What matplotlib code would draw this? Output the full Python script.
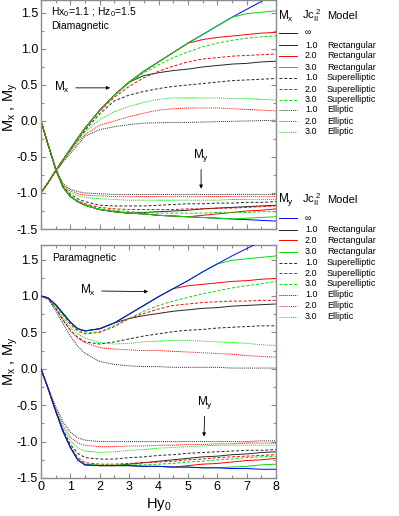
import matplotlib
matplotlib.use("Agg")
import matplotlib.pyplot as plt
from matplotlib.lines import Line2D
from matplotlib.ticker import MultipleLocator, FuncFormatter

plt.rcParams['font.family'] = ['Liberation Sans', 'DejaVu Sans']
plt.rcParams['mathtext.fontset'] = 'custom'
plt.rcParams['mathtext.rm'] = 'Liberation Sans'
plt.rcParams['mathtext.it'] = 'Liberation Sans'

# ---------------- data ----------------
H = [0, 0.25, 0.5, 0.75, 1.0, 1.25, 1.5, 2.0, 2.5, 3.0, 3.5, 4.0, 4.5, 5.0, 5.5, 6.0, 6.5, 7.0, 7.5, 8.0]

jc_labels = ["\u221e", "1.0", "2.0", "3.0", "1.0", "2.0", "3.0", "1.0", "2.0", "3.0"]
model_labels = ["", "Rectangular", "Rectangular", "Rectangular", "Superelliptic", "Superelliptic",
                "Superelliptic", "Elliptic", "Elliptic", "Elliptic"]

# Diamagnetic, Mx
dia_mx_inf = [-1.00, -0.85, -0.69, -0.54, -0.39, -0.24, -0.10, 0.15, 0.36, 0.54, 0.69, 0.82, 0.95, 1.08, 1.20, 1.32, 1.44, 1.55, 1.66, 1.77]
dia_mx_r1 = [-1.00, -0.85, -0.69, -0.54, -0.39, -0.24, -0.10, 0.15, 0.36, 0.54, 0.63, 0.67, 0.70, 0.72, 0.75, 0.77, 0.79, 0.80, 0.82, 0.83]
dia_mx_r2 = [-1.00, -0.85, -0.69, -0.54, -0.39, -0.24, -0.10, 0.15, 0.36, 0.54, 0.69, 0.82, 0.95, 1.08, 1.13, 1.16, 1.18, 1.20, 1.22, 1.23]
dia_mx_r3 = [-1.00, -0.85, -0.69, -0.54, -0.39, -0.24, -0.10, 0.15, 0.36, 0.54, 0.69, 0.82, 0.95, 1.08, 1.20, 1.32, 1.44, 1.49, 1.51, 1.53]
dia_mx_s1 = [-1.00, -0.85, -0.69, -0.54, -0.40, -0.26, -0.13, 0.10, 0.28, 0.36, 0.41, 0.45, 0.48, 0.50, 0.52, 0.54, 0.56, 0.57, 0.58, 0.59]
dia_mx_s2 = [-1.00, -0.85, -0.69, -0.54, -0.39, -0.24, -0.10, 0.14, 0.33, 0.48, 0.60, 0.69, 0.76, 0.82, 0.86, 0.88, 0.90, 0.91, 0.92, 0.93]
dia_mx_s3 = [-1.00, -0.85, -0.69, -0.54, -0.39, -0.24, -0.10, 0.15, 0.36, 0.53, 0.67, 0.78, 0.88, 0.96, 1.03, 1.08, 1.12, 1.15, 1.17, 1.18]
dia_mx_e1 = [-1.00, -0.85, -0.70, -0.57, -0.45, -0.33, -0.21, -0.12, -0.08, -0.05, -0.03, -0.025, -0.02, -0.02, -0.015, -0.01, -0.005, 0.0, 0.005, 0.01]
dia_mx_e2 = [-1.00, -0.85, -0.69, -0.55, -0.42, -0.29, -0.19, -0.06, 0.00, 0.06, 0.11, 0.15, 0.17, 0.18, 0.18, 0.18, 0.17, 0.16, 0.15, 0.14]
dia_mx_e3 = [-1.00, -0.85, -0.69, -0.55, -0.41, -0.27, -0.15, 0.02, 0.13, 0.20, 0.26, 0.30, 0.32, 0.32, 0.32, 0.32, 0.31, 0.31, 0.30, 0.29]

# Diamagnetic, My
dia_my_inf = [0, -0.34, -0.67, -0.92, -1.05, -1.12, -1.17, -1.23, -1.26, -1.28, -1.29, -1.31, -1.32, -1.33, -1.34, -1.35, -1.36, -1.37, -1.38, -1.39]
dia_my_r1 = [0, -0.34, -0.67, -0.92, -1.05, -1.12, -1.17, -1.23, -1.26, -1.28, -1.27, -1.26, -1.25, -1.24, -1.22, -1.21, -1.20, -1.19, -1.18, -1.17]
dia_my_r2 = [0, -0.34, -0.67, -0.92, -1.05, -1.12, -1.17, -1.23, -1.26, -1.28, -1.29, -1.31, -1.32, -1.33, -1.31, -1.29, -1.27, -1.25, -1.24, -1.22]
dia_my_r3 = [0, -0.34, -0.67, -0.92, -1.05, -1.12, -1.17, -1.23, -1.26, -1.28, -1.29, -1.31, -1.32, -1.33, -1.34, -1.35, -1.36, -1.35, -1.34, -1.33]
dia_my_s1 = [0, -0.34, -0.67, -0.91, -1.02, -1.08, -1.12, -1.17, -1.18, -1.18, -1.18, -1.17, -1.16, -1.15, -1.15, -1.14, -1.14, -1.13, -1.13, -1.12]
dia_my_s2 = [0, -0.34, -0.67, -0.92, -1.05, -1.11, -1.15, -1.20, -1.22, -1.23, -1.23, -1.23, -1.23, -1.22, -1.22, -1.21, -1.21, -1.20, -1.19, -1.18]
dia_my_s3 = [0, -0.34, -0.67, -0.92, -1.05, -1.12, -1.17, -1.22, -1.24, -1.26, -1.27, -1.28, -1.28, -1.28, -1.28, -1.27, -1.27, -1.27, -1.26, -1.26]
dia_my_e1 = [0, -0.34, -0.66, -0.87, -0.95, -0.98, -1.00, -1.01, -1.02, -1.02, -1.02, -1.02, -1.02, -1.02, -1.02, -1.02, -1.02, -1.02, -1.02, -1.02]
dia_my_e2 = [0, -0.34, -0.67, -0.89, -0.97, -1.01, -1.03, -1.04, -1.05, -1.05, -1.05, -1.05, -1.05, -1.05, -1.05, -1.05, -1.05, -1.05, -1.05, -1.05]
dia_my_e3 = [0, -0.34, -0.67, -0.90, -0.99, -1.04, -1.06, -1.08, -1.09, -1.10, -1.10, -1.10, -1.10, -1.10, -1.10, -1.10, -1.09, -1.09, -1.09, -1.09]

# Paramagnetic, Mx
par_mx_inf = [1.00, 0.97, 0.88, 0.76, 0.64, 0.55, 0.52, 0.55, 0.63, 0.75, 0.87, 0.99, 1.10, 1.21, 1.33, 1.44, 1.55, 1.65, 1.75, 1.85]
par_mx_r1 = [1.00, 0.97, 0.88, 0.76, 0.64, 0.55, 0.52, 0.55, 0.63, 0.69, 0.73, 0.76, 0.79, 0.81, 0.83, 0.84, 0.86, 0.87, 0.88, 0.89]
par_mx_r2 = [1.00, 0.97, 0.88, 0.76, 0.64, 0.55, 0.52, 0.55, 0.63, 0.75, 0.87, 0.99, 1.10, 1.14, 1.16, 1.18, 1.20, 1.21, 1.23, 1.24]
par_mx_r3 = [1.00, 0.97, 0.88, 0.76, 0.64, 0.55, 0.52, 0.55, 0.63, 0.75, 0.87, 0.99, 1.10, 1.21, 1.33, 1.44, 1.49, 1.51, 1.53, 1.55]
par_mx_s1 = [1.00, 0.96, 0.83, 0.67, 0.53, 0.43, 0.37, 0.34, 0.37, 0.41, 0.45, 0.48, 0.51, 0.53, 0.54, 0.56, 0.57, 0.58, 0.59, 0.59]
par_mx_s2 = [1.00, 0.97, 0.87, 0.74, 0.61, 0.52, 0.48, 0.50, 0.58, 0.69, 0.76, 0.82, 0.87, 0.89, 0.91, 0.92, 0.93, 0.93, 0.94, 0.94]
par_mx_s3 = [1.00, 0.97, 0.87, 0.74, 0.62, 0.53, 0.49, 0.51, 0.59, 0.69, 0.79, 0.87, 0.93, 0.98, 1.03, 1.07, 1.11, 1.14, 1.17, 1.20]
par_mx_e1 = [1.00, 0.95, 0.80, 0.62, 0.45, 0.31, 0.21, 0.10, 0.06, 0.04, 0.03, 0.03, 0.02, 0.02, 0.02, 0.02, 0.01, 0.01, 0.01, 0.01]
par_mx_e2 = [1.00, 0.96, 0.83, 0.67, 0.52, 0.42, 0.36, 0.29, 0.27, 0.26, 0.25, 0.25, 0.24, 0.23, 0.22, 0.21, 0.20, 0.18, 0.17, 0.16]
par_mx_e3 = [1.00, 0.96, 0.84, 0.70, 0.57, 0.48, 0.42, 0.36, 0.34, 0.35, 0.37, 0.38, 0.39, 0.39, 0.38, 0.37, 0.36, 0.35, 0.33, 0.32]

# Paramagnetic, My
par_my_inf = [0, -0.28, -0.58, -0.86, -1.08, -1.25, -1.32, -1.33, -1.33, -1.33, -1.34, -1.34, -1.35, -1.35, -1.36, -1.36, -1.37, -1.37, -1.38, -1.38]
par_my_r1 = [0, -0.28, -0.58, -0.86, -1.08, -1.25, -1.32, -1.33, -1.33, -1.31, -1.29, -1.27, -1.25, -1.23, -1.21, -1.20, -1.18, -1.17, -1.15, -1.14]
par_my_r2 = [0, -0.28, -0.58, -0.86, -1.08, -1.25, -1.32, -1.33, -1.33, -1.33, -1.34, -1.34, -1.35, -1.33, -1.31, -1.30, -1.28, -1.26, -1.25, -1.23]
par_my_r3 = [0, -0.28, -0.58, -0.86, -1.08, -1.25, -1.32, -1.33, -1.33, -1.33, -1.34, -1.34, -1.35, -1.35, -1.36, -1.36, -1.35, -1.34, -1.32, -1.31]
par_my_s1 = [0, -0.28, -0.58, -0.84, -1.04, -1.16, -1.22, -1.24, -1.24, -1.22, -1.21, -1.19, -1.18, -1.16, -1.15, -1.14, -1.13, -1.12, -1.12, -1.11]
par_my_s2 = [0, -0.28, -0.58, -0.86, -1.07, -1.22, -1.29, -1.31, -1.31, -1.30, -1.29, -1.28, -1.27, -1.25, -1.24, -1.22, -1.21, -1.20, -1.19, -1.18]
par_my_s3 = [0, -0.28, -0.58, -0.86, -1.08, -1.24, -1.31, -1.32, -1.32, -1.32, -1.32, -1.31, -1.30, -1.28, -1.27, -1.25, -1.24, -1.22, -1.21, -1.20]
par_my_e1 = [0, -0.27, -0.52, -0.73, -0.87, -0.95, -0.98, -1.00, -1.00, -1.00, -1.00, -1.00, -1.00, -1.00, -1.00, -1.00, -1.00, -1.00, -0.99, -0.99]
par_my_e2 = [0, -0.28, -0.55, -0.78, -0.94, -1.02, -1.05, -1.07, -1.07, -1.06, -1.06, -1.05, -1.05, -1.04, -1.04, -1.03, -1.03, -1.02, -1.02, -1.02]
par_my_e3 = [0, -0.28, -0.56, -0.81, -0.99, -1.09, -1.13, -1.15, -1.14, -1.12, -1.11, -1.09, -1.08, -1.07, -1.06, -1.05, -1.05, -1.05, -1.05, -1.05]

# ---------------- styles ----------------
BLUE, BLACK, RED, GREEN = '#0000ff', '#262626', '#ff0000', '#00dd00'
SOLID, DASH, DOT = '-', (0, (3.0, 2.0)), (0, (1.0, 1.0))
styles = [(BLUE, SOLID), (BLACK, SOLID), (RED, SOLID), (GREEN, SOLID),
          (BLACK, DASH), (RED, DASH), (GREEN, DASH),
          (BLACK, DOT), (RED, DOT), (GREEN, DOT)]
LW = 0.7
SPINE = '#8c8c8c'

W, Hpx = 399, 516
fig = plt.figure(figsize=(W / 100, Hpx / 100), dpi=100)


def fx(px):
    return px / W


def fy(py):
    return 1 - py / Hpx


ax1 = fig.add_axes([fx(41), fy(229), fx(276) - fx(41), fy(0) - fy(229)])
ax2 = fig.add_axes([fx(41), fy(478), fx(276) - fx(41), fy(245) - fy(478)])

dia_mx = [dia_mx_inf, dia_mx_r1, dia_mx_r2, dia_mx_r3, dia_mx_s1, dia_mx_s2, dia_mx_s3, dia_mx_e1, dia_mx_e2, dia_mx_e3]
dia_my = [dia_my_inf, dia_my_r1, dia_my_r2, dia_my_r3, dia_my_s1, dia_my_s2, dia_my_s3, dia_my_e1, dia_my_e2, dia_my_e3]
par_mx = [par_mx_inf, par_mx_r1, par_mx_r2, par_mx_r3, par_mx_s1, par_mx_s2, par_mx_s3, par_mx_e1, par_mx_e2, par_mx_e3]
par_my = [par_my_inf, par_my_r1, par_my_r2, par_my_r3, par_my_s1, par_my_s2, par_my_s3, par_my_e1, par_my_e2, par_my_e3]

# top panel: blue drawn first (hidden under green on envelope)
for series in (dia_mx, dia_my):
    for i, (c, ls) in enumerate(styles):
        ax1.plot(H, series[i], color=c, ls=ls, lw=LW, zorder=2 + (0 if i == 0 else i * 0.01))
# bottom panel: blue drawn on top
for series in (par_mx, par_my):
    for i, (c, ls) in enumerate(styles):
        ax2.plot(H, series[i], color=c, ls=ls, lw=LW, zorder=3 if i == 0 else 2 + i * 0.01)

ax1.set_ylim(-1.5, 1.68)
ax2.set_ylim(-1.5, 1.7)
for ax in (ax1, ax2):
    ax.set_xlim(0, 8)
    ax.xaxis.set_major_locator(MultipleLocator(1))
    ax.xaxis.set_minor_locator(MultipleLocator(0.5))
    ax.yaxis.set_major_locator(MultipleLocator(0.5))
    ax.yaxis.set_minor_locator(MultipleLocator(0.25))
    ax.tick_params(which='both', direction='in', top=True, right=True, color=SPINE, width=0.8,
                   labelsize=9, pad=2)
    ax.tick_params(which='major', length=3.5)
    ax.tick_params(which='minor', length=2)
    for s in ax.spines.values():
        s.set_color(SPINE)
        s.set_linewidth(1.0)
    ax.set_ylabel("M$_x$ , M$_y$", fontsize=10.5)
    ax.yaxis.set_major_formatter(FuncFormatter(lambda v, p: f"{v:.1f}"))
ax1.yaxis.set_label_coords(-0.088, 0.53)
ax2.yaxis.set_label_coords(-0.088, 0.5)
ax1.tick_params(labelbottom=False)
ax2.set_xlabel("Hy$_0$", fontsize=10.5, labelpad=2)

# annotations
ax1.text(0.043, 0.945, "Hx$_0$=1.1 ; Hz$_0$=1.5", transform=ax1.transAxes, fontsize=7.5, ha='left', va='center')
ax1.text(0.043, 0.887, "Diamagnetic", transform=ax1.transAxes, fontsize=7.5, ha='left', va='center')
ax2.text(0.047, 0.945, "Paramagnetic", transform=ax2.transAxes, fontsize=7.5, ha='left', va='center')

arrow = dict(arrowstyle='-|>', color='black', lw=0.6, mutation_scale=5, shrinkA=2, shrinkB=0)
ax1.annotate("M$_x$", xy=(2.35, 0.46), xytext=(0.45, 0.46), fontsize=8.5, ha='left', va='center', arrowprops=arrow)
ax1.annotate("M$_y$", xy=(5.45, -0.94), xytext=(5.45, -0.48), fontsize=8.5, ha='center', va='center', arrowprops=arrow)
ax2.annotate("M$_x$", xy=(3.65, 1.06), xytext=(1.33, 1.07), fontsize=8.5, ha='left', va='center', arrowprops=arrow)
ax2.annotate("M$_y$", xy=(5.55, -0.93), xytext=(5.58, -0.46), fontsize=8.5, ha='center', va='center', arrowprops=arrow)


# legends (drawn in figure pixel coordinates)
def draw_legend(header, y_head, ys):
    fig.text(fx(278), fy(y_head), header, fontsize=8.5, ha='left', va='center')
    fig.text(fx(302), fy(y_head), "Jc$_{\\rm II}^{\\ 2}$", fontsize=8, ha='left', va='center')
    fig.text(fx(327), fy(y_head), "Model", fontsize=8, ha='left', va='center')
    for i, (c, ls) in enumerate(styles):
        y = ys[i]
        fig.add_artist(Line2D([fx(279), fx(297)], [fy(y), fy(y)], color=c, ls=ls, lw=LW))
        fig.text(fx(305), fy(y), jc_labels[i], fontsize=6.5, ha='left', va='center')
        if model_labels[i]:
            fig.text(fx(327), fy(y), model_labels[i], fontsize=6.5, ha='left', va='center')


draw_legend("M$_x$", 16, [33, 45, 56, 67, 78, 89, 99.5, 110, 121, 132])
draw_legend("M$_y$", 200, [218, 230, 240.5, 251.5, 262.5, 273.3, 284, 294.5, 305.5, 316.5])

fig.savefig("out.png", dpi=100)
